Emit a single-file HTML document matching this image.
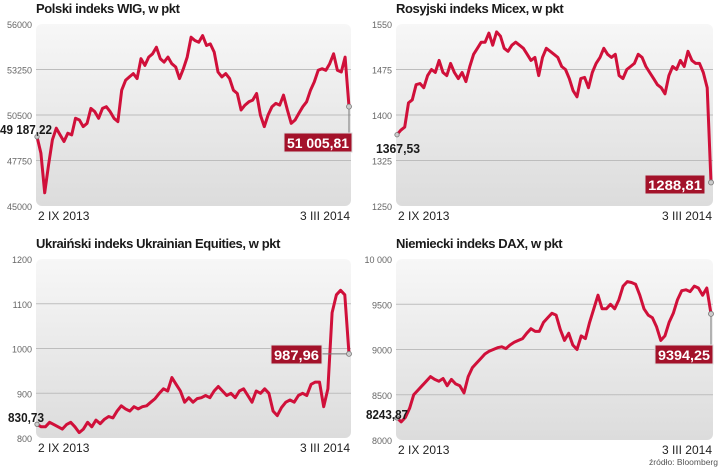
<!DOCTYPE html>
<html><head><meta charset="utf-8">
<style>
html,body{margin:0;padding:0;background:#fff;}
svg{display:block;font-family:"Liberation Sans Narrow","Liberation Sans",sans-serif;}
.title{font-weight:bold;font-size:13px;fill:#1a1a1a;letter-spacing:-0.4px;}
.tick{font-size:9px;fill:#666;}
.date{font-size:12px;fill:#222;}
.lbl{font-weight:bold;font-size:13px;fill:#1a1a1a;}
.boxt{font-weight:bold;font-size:14px;fill:#fff;}
</style></head>
<body>
<svg id="c" width="720" height="467" viewBox="0 0 720 467">
<defs>
<linearGradient id="bg" x1="0" y1="0" x2="0" y2="1">
<stop offset="0" stop-color="#f7f7f7"/><stop offset="1" stop-color="#dcdcdc"/>
</linearGradient>
</defs>
<text x="718" y="465" font-size="8.5" fill="#555" text-anchor="end">źródło: Bloomberg</text>
</svg>
<script>
const wigValues=[49187,48200,45800,47500,49000,49700,49300,48900,49400,49300,50300,50200,49800,50000,50900,50700,50300,50900,51000,50700,50300,50100,52000,52600,52800,53000,52700,53900,53500,54000,54200,54600,53900,53700,54000,53600,53400,52700,53300,54000,55200,55000,54900,55300,54700,54800,54300,53100,52800,53000,52700,52000,51800,50800,51100,51300,51400,51800,50500,49800,50500,51000,51200,51100,51700,50800,50000,50200,50600,51000,51300,52000,52500,53200,53300,53200,53600,54200,53200,53100,54000,51006];
const wigTicks=[45000,47750,50500,53250,56000];
const micexValues=[1367.5,1375,1380,1420,1425,1450,1452,1445,1465,1475,1470,1490,1470,1465,1485,1470,1460,1470,1455,1480,1500,1510,1520,1520,1535,1515,1537,1530,1510,1505,1515,1520,1515,1510,1500,1490,1495,1465,1495,1510,1505,1500,1495,1480,1475,1460,1440,1430,1460,1462,1445,1470,1485,1495,1510,1500,1495,1500,1465,1460,1475,1480,1485,1500,1495,1480,1470,1460,1450,1445,1435,1465,1480,1475,1490,1480,1505,1490,1485,1485,1470,1445,1288.8];
const micexTicks=[1250,1325,1400,1475,1550];
const ukrValues=[830.7,825,825,835,830,825,820,830,835,825,812,820,835,825,840,832,842,848,845,860,872,865,860,870,865,870,872,880,888,900,910,905,935,920,905,880,890,880,888,890,895,890,905,915,905,895,900,890,905,910,895,880,905,900,910,900,860,850,868,880,885,880,895,900,895,920,925,925,870,910,1080,1120,1130,1120,988];
const ukrTicks=[800,900,1000,1100,1200];
const daxValues=[8244,8200,8250,8350,8500,8550,8600,8650,8700,8670,8650,8680,8600,8670,8620,8600,8520,8700,8800,8850,8900,8950,8980,9000,9020,9030,9010,9050,9080,9100,9120,9180,9230,9200,9200,9300,9350,9400,9380,9220,9100,9180,9050,9000,9150,9120,9300,9450,9600,9450,9450,9500,9450,9550,9700,9750,9740,9720,9600,9450,9380,9350,9250,9100,9150,9300,9400,9550,9650,9660,9640,9700,9680,9600,9680,9394];
const daxTicks=[8000,8500,9000,9500,10000];
const titles=["Polski indeks WIG, w pkt","Rosyjski indeks Micex, w pkt","Ukraiński indeks Ukrainian Equities, w pkt","Niemiecki indeks DAX, w pkt"];
const tickLabels=[["45000","47750","50500","53250","56000"],["1250","1325","1400","1475","1550"],["800","900","1000","1100","1200"],["8000","8500","9000","9500","10 000"]];
const startLabels=["49 187,22","1367,53","830,73","8243,87"];
const endLabels=["51 005,81","1288,81","987,96","9394,25"];

const svg=document.getElementById('c');
const NS="http://www.w3.org/2000/svg";
function mk(tag,attrs,parent){const e=document.createElementNS(NS,tag);for(const k in attrs)e.setAttribute(k,attrs[k]);(parent||svg).appendChild(e);return e;}

const panels=[
 {x0:36,x1:351,top:24,bot:206,vals:wigValues,ticks:wigTicks,sl:{x:0,y:134,w:52},el:{bx:284,by:133,w:68,mode:"v"}},
 {x0:396,x1:713,top:24,bot:206,vals:micexValues,ticks:micexTicks,sl:{x:376,y:153,w:44},el:{bx:645,by:175,w:60,mode:"none"}},
 {x0:36,x1:351,top:259,bot:438,vals:ukrValues,ticks:ukrTicks,sl:{x:8,y:422,w:36},el:{bx:271,by:345,w:51,mode:"h"}},
 {x0:396,x1:713,top:259,bot:440,vals:daxValues,ticks:daxTicks,sl:{x:366,y:419,w:42},el:{bx:655,by:345,w:58,mode:"v"}}
];
panels.forEach((p,i)=>{
 const g=mk('g',{});
 
 
 const tmin=p.ticks[0],tmax=p.ticks[p.ticks.length-1];
 const y=v=>p.bot-(v-tmin)/(tmax-tmin)*(p.bot-p.top);
 const x=k=>p.x0+1+k/(p.vals.length-1)*(p.x1-p.x0-3);
 const t=mk('text',{x:p.x0,y:p.top-11,class:'title'},g);t.textContent=titles[i];
 
 
 const bg=mk('rect',{x:p.x0,y:p.top,width:p.x1-p.x0,height:p.bot-p.top,rx:6,fill:'url(#bg)'},g);
 
 
 p.ticks.forEach((tv,j)=>{
  if(j>0&&j<p.ticks.length-1){const l=mk('line',{x1:p.x0,x2:p.x1,y1:y(tv),y2:y(tv),stroke:'#bdbdbd','stroke-width':1},g);
   
   }
  const tx=mk('text',{x:p.x0-4,y:y(tv)+4,class:'tick','text-anchor':'end'},g);tx.textContent=tickLabels[i][j];
  
  
 });
 const d1=mk('text',{x:p.x0+2,y:p.bot+14,class:'date'},g);d1.textContent="2 IX 2013";
 
 
 const d2=mk('text',{x:p.x1-1,y:p.bot+14,class:'date','text-anchor':'end'},g);d2.textContent="3 III 2014";
 
 
 const pts=p.vals.map((v,k)=>x(k).toFixed(1)+','+y(v).toFixed(1)).join(' ');
 const pl=mk('polyline',{points:pts,fill:'none',stroke:'#d0103a','stroke-width':3,'stroke-linejoin':'round'},g);
 
 
 const n=p.vals.length-1, ex=x(n), ey=y(p.vals[n]);
 const e=p.el, bh=19;
 if(e.mode==="v"){mk('line',{x1:ex,x2:ex,y1:ey,y2:e.by,stroke:'#777','stroke-width':1},g);}
 if(e.mode==="h"){mk('line',{x1:e.bx+e.w,x2:ex,y1:ey,y2:ey,stroke:'#777','stroke-width':1},g);}
 mk('circle',{cx:ex,cy:ey,r:2.5,fill:'#ccc',stroke:'#777','stroke-width':0.8},g);
 mk('circle',{cx:x(0),cy:y(p.vals[0]),r:2.2,fill:'#ccc',stroke:'#777','stroke-width':0.8},g);
 const box=mk('rect',{x:e.bx,y:e.by,width:e.w,height:bh,fill:'#a3122a',stroke:'#ddd','stroke-width':1},g);
 
 
 const bt=mk('text',{x:e.bx+3,y:e.by+15,class:'boxt',textLength:e.w-6,lengthAdjust:'spacingAndGlyphs'},g);bt.textContent=endLabels[i];
 
 
 const st=mk('text',{x:p.sl.x,y:p.sl.y,class:'lbl',textLength:p.sl.w,lengthAdjust:'spacingAndGlyphs'},g);st.textContent=startLabels[i];
 
 
});
</script>
</body></html>
